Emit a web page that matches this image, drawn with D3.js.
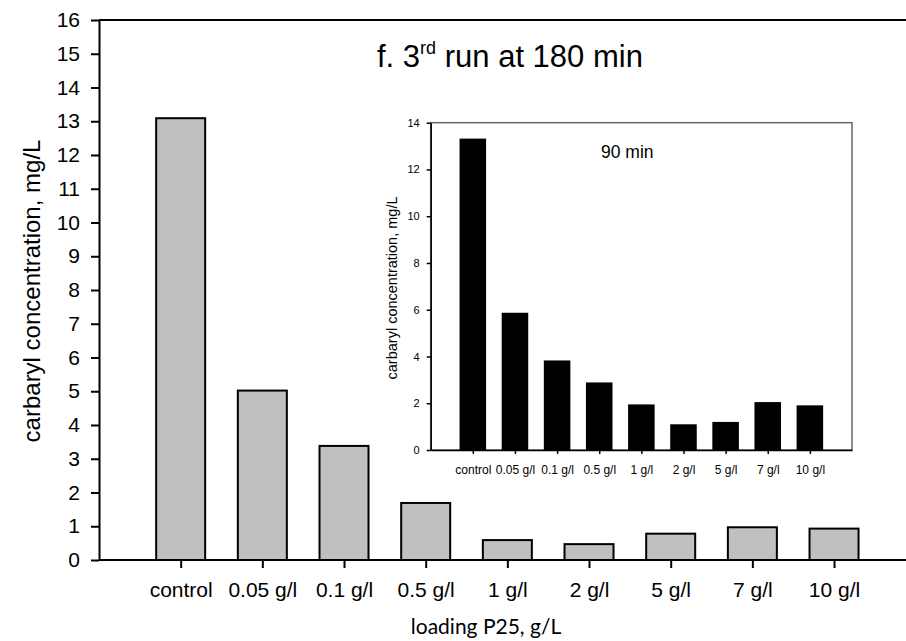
<!DOCTYPE html>
<html>
<head>
<meta charset="utf-8">
<script src="https://cdn.jsdelivr.net/npm/d3@7"></script>
<style>
  body { margin: 0; background: #fff; }
  svg { display: block; }
  text { font-family: Arial, "Liberation Sans", sans-serif; }
</style>
</head>
<body>
<div id="chart"></div>
<script>
// categories (loading of P25)
var categories = ["control", "0.05 g/l", "0.1 g/l", "0.5 g/l", "1 g/l", "2 g/l", "5 g/l", "7 g/l", "10 g/l"];
// 3rd run at 180 min (main chart)
var run180 = [13.09, 5.02, 3.38, 1.69, 0.59, 0.47, 0.78, 0.97, 0.93];
// 90 min (inset chart)
var run90 = [13.32, 5.87, 3.83, 2.89, 1.95, 1.10, 1.20, 2.05, 1.91];
var mainYTicks = d3.range(0, 17, 1);
var insetYTicks = [0, 2, 4, 6, 8, 10, 12, 14];

var width = 906;
var height = 641;

var svg = d3.select('#chart')
  .append('svg')
  .attr('width', width)
  .attr('height', height);

svg.append('rect')
  .attr('width', width)
  .attr('height', height)
  .attr('fill', 'white');

// ---- main chart ----
var x = d3.scaleLinear().domain([0, 10]).range([99, 915.7]);
var y = d3.scaleLinear().domain([0, 16]).range([560, 20]);
var step = x(1) - x(0);
var barW = step * 0.6;

svg.selectAll('.bar')
  .data(run180)
  .enter()
  .append('rect')
  .attr('class', 'bar')
  .attr('x', function(d, i) { return x(i + 1) - barW / 2; })
  .attr('y', function(d) { return y(d); })
  .attr('width', barW)
  .attr('height', function(d) { return y(0) - y(d); })
  .attr('fill', '#c0c0c0')
  .attr('stroke', 'black')
  .attr('stroke-width', 2);

// top frame line
svg.append('line')
  .attr('x1', x(0)).attr('x2', width)
  .attr('y1', y(16)).attr('y2', y(16))
  .attr('stroke', 'black')
  .attr('stroke-width', 2);

var yAxis = svg.append('g')
  .attr('transform', 'translate(' + x(0) + ',0)')
  .call(d3.axisLeft(y).tickValues(mainYTicks).tickSize(8).tickSizeOuter(0).tickPadding(11));
yAxis.selectAll('path, line').attr('stroke', 'black').attr('stroke-width', 2);
yAxis.selectAll('text')
  .style('font-size', '21px')
  .attr('fill', 'black');

var xAxis = svg.append('g')
  .attr('transform', 'translate(0,' + y(0) + ')')
  .call(d3.axisBottom(x)
    .tickValues(d3.range(1, categories.length + 1))
    .tickFormat(function(d) { return categories[d - 1]; })
    .tickSize(8).tickSizeOuter(0).tickPadding(0));
xAxis.select('.domain').attr('d', 'M' + x(0) + ',0H' + width);
xAxis.selectAll('path, line').attr('stroke', 'black').attr('stroke-width', 2);
xAxis.selectAll('text')
  .attr('y', 37)
  .attr('dy', 0)
  .style('font-size', '21px')
  .attr('fill', 'black');

svg.append('text')
  .attr('transform', 'translate(40,' + 291 + ') rotate(-90)')
  .attr('text-anchor', 'middle')
  .style('font-size', '24px')
  .text('carbaryl concentration, mg/L');

svg.append('text')
  .attr('x', 486)
  .attr('y', 634)
  .attr('text-anchor', 'middle')
  .style('font-family', 'Lato, "Open Sans", sans-serif')
  .style('font-size', '21px')
  .text('loading P25, g/L');

var title = svg.append('text')
  .attr('x', 377)
  .attr('y', 67)
  .style('font-size', '31px');
title.append('tspan').text('f. 3');
title.append('tspan').attr('dy', -13).style('font-size', '18px').text('rd');
title.append('tspan').attr('dy', 13).text(' run at 180 min');

// ---- inset chart ----
var xi = d3.scaleLinear().domain([0, 10]).range([430.7, 852]);
var yi = d3.scaleLinear().domain([0, 14]).range([450, 122.7]);
var stepI = xi(1) - xi(0);
var barWi = stepI * 0.63;

var inset = svg.append('g');

inset.append('rect')
  .attr('x', xi(0)).attr('y', yi(14))
  .attr('width', xi(10) - xi(0))
  .attr('height', yi(0) - yi(14))
  .attr('fill', 'white')
  .attr('stroke', '#666')
  .attr('stroke-width', 1.5);

inset.selectAll('.ibar')
  .data(run90)
  .enter()
  .append('rect')
  .attr('class', 'ibar')
  .attr('x', function(d, i) { return xi(i + 1) - barWi / 2; })
  .attr('y', function(d) { return yi(d); })
  .attr('width', barWi)
  .attr('height', function(d) { return yi(0) - yi(d); })
  .attr('fill', 'black');

var yAxisI = inset.append('g')
  .attr('transform', 'translate(' + xi(0) + ',0)')
  .call(d3.axisLeft(yi).tickValues(insetYTicks).tickSize(4).tickSizeOuter(0).tickPadding(7));
yAxisI.selectAll('path, line').attr('stroke', 'black').attr('stroke-width', 1.5);
yAxisI.selectAll('text').style('font-size', '11px').attr('fill', 'black');

var xAxisI = inset.append('g')
  .attr('transform', 'translate(0,' + yi(0) + ')')
  .call(d3.axisBottom(xi)
    .tickValues(d3.range(1, categories.length + 1))
    .tickFormat(function(d) { return categories[d - 1]; })
    .tickSize(4).tickSizeOuter(0).tickPadding(0));
xAxisI.selectAll('path, line').attr('stroke', 'black').attr('stroke-width', 1.5);
xAxisI.selectAll('text')
  .attr('y', 24)
  .attr('dy', 0)
  .style('font-size', '12px')
  .attr('fill', 'black');

inset.append('text')
  .attr('transform', 'translate(397,288) rotate(-90)')
  .attr('text-anchor', 'middle')
  .style('font-size', '14.5px')
  .text('carbaryl concentration, mg/L');

inset.append('text')
  .attr('x', 601)
  .attr('y', 158)
  .style('font-size', '17.5px')
  .text('90 min');
</script>
</body>
</html>
